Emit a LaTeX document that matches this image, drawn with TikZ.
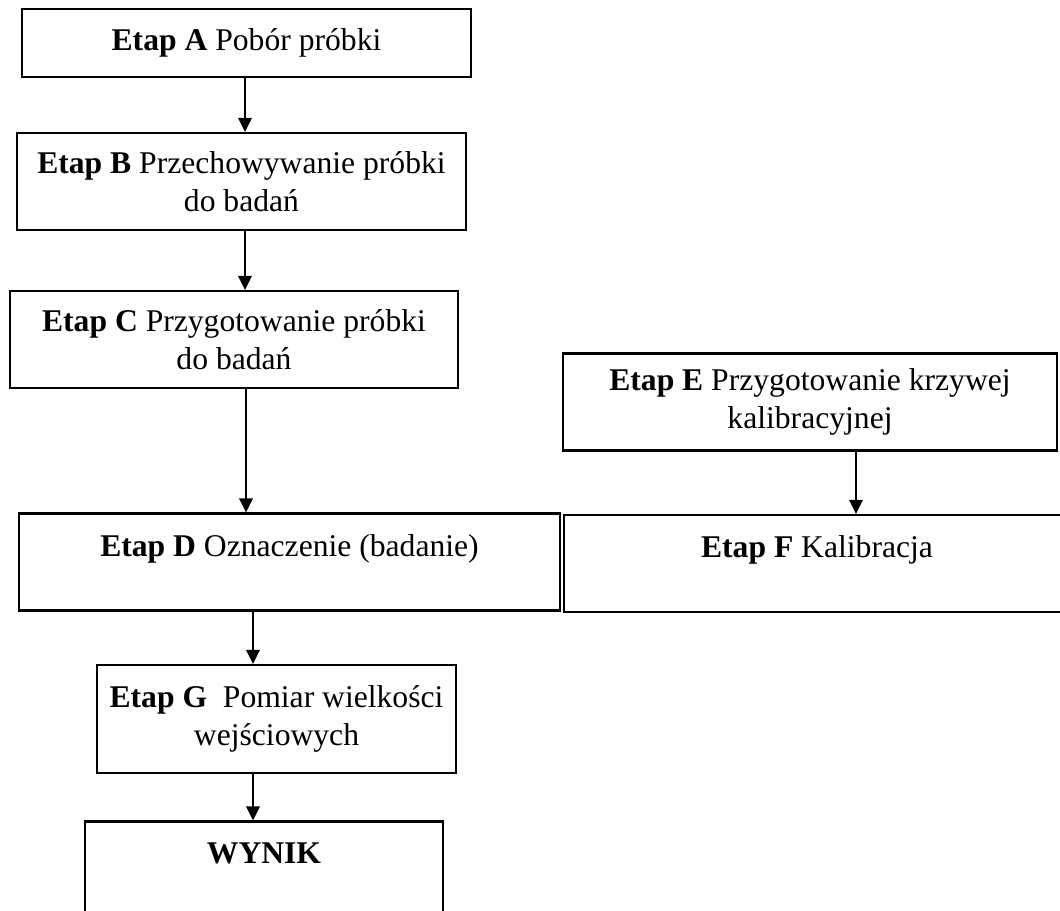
\documentclass[tikz,border=0pt]{standalone}
\usepackage{fontspec}
\setmainfont{Liberation Serif}
\usetikzlibrary{arrows.meta}

\begin{document}
\begin{tikzpicture}[x=0.02cm, y=-0.02cm,
  etap/.style={draw, line width=1.3pt, rectangle, align=center, inner sep=2pt,
    font=\fontsize{18pt}{21.3pt}\selectfont, minimum height=1.94cm},
  etap top/.style={etap, text depth=0.66cm},
  arr/.style={-{Triangle[length=0.28cm, width=0.27cm]}, line width=1.1pt}]
  \useasboundingbox (0,0) rectangle (1060,911);

  % left column
  \node[etap, minimum width=8.98cm, minimum height=1.36cm] (A) at (246.5,43)
    {\textbf{Etap A} Pobór próbki};
  \node[etap, minimum width=8.98cm] (B) at (241.5,181.5)
    {\textbf{Etap B} Przechowywanie próbki\\do badań};
  \node[etap, minimum width=8.96cm] (C) at (234,339.5)
    {\textbf{Etap C} Przygotowanie próbki\\do badań};
  \node[etap top, minimum width=10.82cm] (D) at (289.5,562)
    {\textbf{Etap D} Oznaczenie (badanie)};
  \node[etap, minimum width=7.18cm, minimum height=2.16cm] (G) at (276.5,719)
    {\textbf{Etap G}\ \ Pomiar wielkości\\wejściowych};
  \node[etap top, minimum width=7.16cm] (W) at (264,870)
    {\textbf{WYNIK}};

  % right column
  \node[etap, minimum width=9.88cm] (E) at (810,402)
    {\textbf{Etap E} Przygotowanie krzywej\\kalibracyjnej};
  \node[etap top, minimum width=10.12cm] (F) at (817,563.5)
    {\textbf{Etap F} Kalibracja};

  % arrows
  \draw[arr] (A.south -| 245,0) -- (B.north -| 245,0);
  \draw[arr] (B.south -| 245,0) -- (C.north -| 245,0);
  \draw[arr] (C.south -| 246,0) -- (D.north -| 246,0);
  \draw[arr] (D.south -| 253,0) -- (G.north -| 253,0);
  \draw[arr] (G.south -| 253,0) -- (W.north -| 253,0);
  \draw[arr] (E.south -| 856,0) -- (F.north -| 856,0);
\end{tikzpicture}
\end{document}
